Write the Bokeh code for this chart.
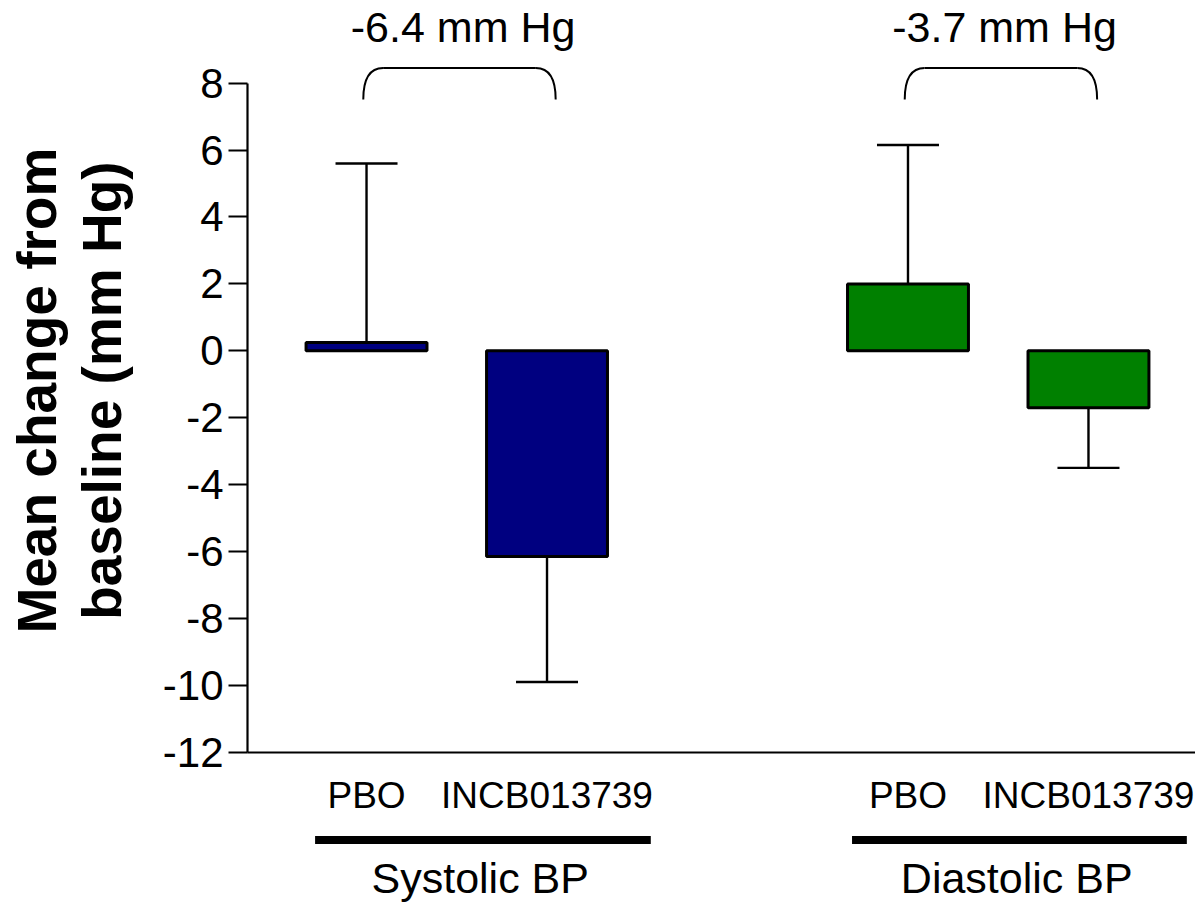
import numpy as np
from bokeh.plotting import figure
from bokeh.models import Range1d, FixedTicker, LinearAxis
from bokeh.core.properties import value
from bokeh.embed import file_html
from bokeh.resources import INLINE

# ---- data ----
groups = ["Systolic BP", "Diastolic BP"]
treatments = ["PBO", "INCB013739"]
means = [0.25, -6.15, 2.0, -1.7]          # mean change (mm Hg)
error_ends = [5.6, -9.9, 6.15, -3.5]      # end of error bar (mm Hg)
differences = [-6.4, -3.7]                # treatment difference (mm Hg)
y_ticks = [-12, -10, -8, -6, -4, -2, 0, 2, 4, 6, 8]
y_title_lines = ["Mean change from", "baseline (mm Hg)"]

group_colors = ["#000080", "#008000"]
FONT = "Liberation Sans"

# positions of the categories on the x scale
xs = [1, 2, 4, 5]
bar_colors = [group_colors[0], group_colors[0], group_colors[1], group_colors[1]]

x_start, x_end = -1.028, 5.593
y_start, y_end = -16.49, 10.47
y_axis_x = 0.3407

p = figure(width=1195, height=902, output_backend="svg", toolbar_location=None,
           x_range=Range1d(x_start, x_end), y_range=Range1d(y_start, y_end),
           min_border_left=0, min_border_right=0, min_border_top=0, min_border_bottom=0,
           x_axis_type=None, y_axis_type=None)
p.grid.visible = False
p.outline_line_color = None
p.background_fill_color = "white"
p.border_fill_color = "white"

# y axis
yax = LinearAxis(fixed_location=y_axis_x, bounds=(y_ticks[0], y_ticks[-1]),
                 ticker=FixedTicker(ticks=y_ticks, minor_ticks=[]))
yax.major_label_overrides = {t: str(t) for t in y_ticks}
yax.axis_line_width = 2.2
yax.major_tick_line_width = 2.2
yax.major_tick_out = 19
yax.major_tick_in = 0
yax.minor_tick_out = 0
yax.minor_tick_in = 0
yax.major_label_text_font = FONT
yax.major_label_text_font_size = "42px"
yax.major_label_text_color = "black"
yax.major_label_standoff = 5
p.add_layout(yax, "left")

# x axis
xax = LinearAxis(fixed_location=y_ticks[0], bounds=(y_axis_x, x_end),
                 ticker=FixedTicker(ticks=xs, minor_ticks=[]))
xax.major_label_overrides = {x: treatments[i % 2] for i, x in enumerate(xs)}
xax.axis_line_width = 2.2
xax.major_tick_out = 0
xax.major_tick_in = 0
xax.minor_tick_out = 0
xax.minor_tick_in = 0
xax.major_label_text_font = FONT
xax.major_label_text_font_size = "37px"
xax.major_label_text_color = "black"
xax.major_label_standoff = 23
p.add_layout(xax, "below")

# bars
p.vbar(x=xs, top=means, bottom=0, width=0.67, fill_color=bar_colors,
       line_color="black", line_width=3)

# error bars
p.segment(x0=xs, y0=means, x1=xs, y1=error_ends, line_color="black", line_width=2.4)
p.scatter(x=xs, y=error_ends, marker="dash", size=62, line_color="black", line_width=2.4)

# group underlines and labels
starts = [xs[0] - 0.285, xs[2] - 0.31]
ends = [xs[1] + 0.575, xs[3] + 0.545]
p.segment(x0=starts, y0=[-14.62] * 2, x1=ends, y1=[-14.62] * 2,
          line_color="black", line_width=8, line_cap="butt")
p.text(x=[(s + e) / 2 - 0.015 for s, e in zip(starts, ends)], y=[-15.77] * 2, text=groups,
       text_font=value(FONT), text_font_size="43px", text_align="center",
       text_baseline="alphabetic", text_color="black")

# brackets with the differences
b_left = [xs[0] - 0.018, xs[2] - 0.018]
b_right = [xs[1] + 0.048, xs[3] + 0.048]
b_top, b_bot = 8.45, 7.51
rx = 0.11
p.segment(x0=[l + rx for l in b_left], y0=[b_top] * 2, x1=[r - rx for r in b_right], y1=[b_top] * 2,
          line_color="black", line_width=2)
p.quadratic(x0=b_left, y0=[b_bot] * 2, x1=[l + rx for l in b_left], y1=[b_top] * 2,
            cx=b_left, cy=[b_top] * 2, line_color="black", line_width=2)
p.quadratic(x0=b_right, y0=[b_bot] * 2, x1=[r - rx for r in b_right], y1=[b_top] * 2,
            cx=b_right, cy=[b_top] * 2, line_color="black", line_width=2)
p.text(x=[(l + r) / 2 + 0.02 for l, r in zip(b_left, b_right)], y=[9.68] * 2,
       text=[f"{d} mm Hg" for d in differences],
       text_font=value(FONT), text_font_size="43px", text_align="center",
       text_baseline="alphabetic", text_color="black")

# y axis title (two lines, rotated)
p.text(x=[-0.823, -0.463], y=[-1.19] * 2, text=y_title_lines, angle=np.pi / 2,
       text_font=value(FONT), text_font_size="55px", text_font_style="bold",
       text_align="center", text_baseline="middle", text_color="black")

open("out.html", "w").write(file_html(p, INLINE))
